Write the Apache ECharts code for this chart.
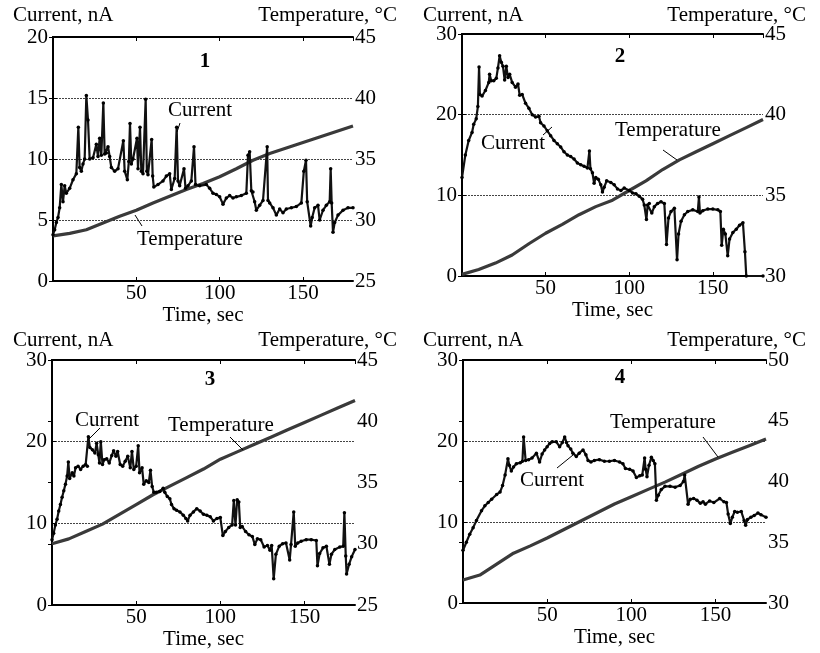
<!DOCTYPE html>
<html>
<head>
<meta charset="utf-8">
<script src="https://cdn.jsdelivr.net/npm/echarts@6/dist/echarts.min.js"></script>
<style>html,body{margin:0;padding:0;background:#fff}#c{width:820px;height:653px}</style>
</head>
<body>
<div id="c"></div>
<script>
// ---- data ----
var tempTime = [0,10,20,30,40,50,60,70,80,90,100,110,120,130,140,150,160,170,180];
var xTicks = [50,100,150];

// Panel 1
var p1Temp = [28.7,28.9,29.2,29.75,30.3,30.8,31.4,31.95,32.5,33.0,33.55,34.2,34.9,35.45,35.9,36.35,36.8,37.25,37.7];
var p1Current = [[0,3.8],[1,4.2],[2,4.8],[3,5.2],[4,6.0],[5,7.9],[6,6.5],[7,7.8],[8,7.2],[10,7.6],[12,8.3],[14,8.8],[15.2,12.6],[16,9.3],[17,9.0],[18,9.6],[19,10.0],[20,15.2],[21,13.2],[22,10.0],[24,10.1],[26,11.2],[27,10.2],[28,11.7],[29,10.3],[30.2,14.6],[31,10.4],[32,10.5],[33,11.0],[34,10.2],[35,9.3],[37,9.0],[39,9.2],[42.2,11.5],[43,9.0],[44.6,8.3],[45.5,9.8],[46.2,12.9],[47,9.6],[48,10.0],[50.4,11.7],[51,9.2],[52.2,12.6],[53,9.0],[54,8.8],[55.6,14.9],[56.3,9.0],[57,8.7],[59.2,11.6],[59.8,8.6],[60.5,7.7],[63,7.9],[66,8.2],[68,8.6],[70,8.8],[71,7.5],[73,8.4],[74.2,12.6],[75,8.2],[76,7.8],[78.6,9.2],[79.5,7.6],[81,7.8],[83,8.2],[84.6,11.0],[85.5,7.9],[88,7.8],[92,7.9],[94,7.6],[96,7.2],[98,7.1],[100,6.9],[102,6.3],[104,6.8],[106,7.0],[108,6.8],[110,6.9],[113,7.0],[116,7.2],[117,10.3],[118,10.6],[119,7.4],[120,7.3],[121,6.5],[122,5.8],[124,6.2],[126,6.6],[128.5,11.0],[129,6.6],[130,6.4],[132,6.0],[134,5.4],[136,5.9],[138,5.6],[140,5.9],[143,6.0],[146,6.1],[149,6.4],[150.5,9.0],[151.8,9.9],[152.5,6.5],[154.6,4.5],[155.5,5.2],[157,6.0],[159,6.2],[160,5.0],[162,5.8],[164,6.2],[166,6.5],[166.6,9.2],[167.2,6.4],[168,4.0],[169,4.8],[171,5.4],[174,5.8],[177,6.0],[180,6.0]];

// Panel 2
var p2Temp = [30.1,30.4,30.8,31.3,32.0,32.65,33.2,33.8,34.3,34.7,35.3,35.9,36.6,37.2,37.7,38.2,38.7,39.2,39.7];
var p2Current = [[0,12.2],[2,15.0],[4,16.8],[6,17.8],[7,18.8],[8.5,19.5],[9.5,21.0],[10.2,25.9],[10.7,22.5],[12,22.3],[14,23.0],[16,24.0],[16.5,25.0],[17.5,24.2],[19,24.2],[20.5,24.5],[21.5,25.8],[22.5,27.3],[23.5,26.5],[24.5,26.0],[25.5,24.3],[26.5,26.0],[27.5,24.6],[28.5,25.0],[30,24.0],[32,23.4],[33.5,23.8],[34.5,22.4],[36,22.5],[38,21.4],[40,20.8],[42,20.0],[44,19.7],[46,19.8],[47,19.0],[49,18.6],[51,18.0],[53,17.4],[55,16.8],[57,16.4],[59,16.0],[61,15.4],[63,15.0],[65,14.8],[67,14.5],[69,14.0],[71,13.8],[73,13.6],[75,13.4],[76.2,15.5],[76.8,13.3],[78,12.8],[79,11.5],[80,12.2],[81.5,12.0],[83,11.3],[84,10.4],[85,11.0],[86.5,11.8],[89,11.6],[91,11.3],[93,10.8],[95,10.6],[97,10.9],[100,10.6],[102,10.3],[104,10.2],[106,9.9],[108,9.5],[109,8.8],[110.3,7.0],[111,8.8],[112,9.0],[113.5,7.8],[115,8.6],[117,9.0],[119,9.2],[121,9.0],[122.3,3.9],[123.5,7.2],[125,8.0],[127,8.4],[128.6,2.0],[129.5,5.2],[131,6.8],[133,7.6],[135,8.0],[138,8.2],[141,8.0],[141.7,9.8],[142.3,7.8],[144,8.1],[147,8.3],[150,8.3],[153,8.2],[154.5,8.0],[155.3,3.8],[156.3,5.8],[157.5,5.2],[158.9,2.5],[160,4.6],[162,5.4],[164,5.8],[166,6.3],[168,6.6],[169.2,3.0],[170,0],[180,0]];

// Panel 3
var p3Temp = [30.0,30.4,31.0,31.6,32.4,33.2,34.0,34.7,35.4,36.1,36.9,37.5,38.1,38.7,39.3,39.9,40.5,41.1,41.7];
var p3Current = [[0,8.0],[1,8.8],[2,9.8],[3,10.5],[4,11.5],[5,12.3],[6,13.2],[7,14.0],[8,14.8],[9,15.8],[9.7,17.5],[10.5,15.5],[12,16.2],[13,15.8],[14,16.8],[15.5,17.0],[17,16.6],[18.5,17.0],[20,17.2],[21,17.0],[21.6,20.6],[22.5,19.3],[24,19.0],[25.5,18.6],[26.5,19.8],[27.5,18.4],[28.2,17.4],[29,20.0],[30,17.2],[31,17.8],[32.5,17.9],[34,17.4],[35.5,18.3],[36.6,18.9],[38,18.2],[39,18.8],[40.5,17.2],[42,17.0],[43.5,17.6],[45,18.2],[46.5,16.8],[47.5,18.8],[48.6,16.6],[50,17.0],[51.2,19.5],[52,16.2],[53.5,16.8],[54.5,14.8],[56,15.2],[57.5,15.0],[58.5,16.5],[59.5,14.5],[60.5,13.8],[62,13.8],[64,13.9],[66,14.3],[67,13.8],[68.5,13.3],[70,13.0],[71,12.3],[72.5,11.8],[74,11.6],[76,11.4],[78,11.0],[79.5,10.6],[80.6,10.3],[82,11.0],[84,11.4],[86,11.8],[88,11.5],[90,11.1],[92,11.0],[94,10.8],[95.9,10.3],[98,10.6],[100,10.7],[101.5,8.5],[103,9.0],[105,9.5],[107,9.8],[108,12.8],[109,9.8],[110,12.9],[111,12.6],[111.8,9.5],[113,9.6],[115,9.0],[117,8.6],[119,8.4],[120.5,7.4],[122,8.1],[124,8.0],[126,7.1],[128,7.3],[129.5,6.7],[130.5,7.3],[131.7,3.2],[133,6.2],[135,7.2],[137,7.5],[139,7.6],[141.2,5.5],[142,7.4],[143.6,11.4],[144.5,7.2],[146,7.6],[148,7.8],[151,8.0],[154,8.0],[157,7.9],[157.7,4.8],[159,6.3],[161,7.0],[163,7.2],[164.8,5.0],[166,6.2],[168,6.8],[171,7.1],[173,7.2],[173.7,11.3],[174.5,6.0],[175,3.8],[176.5,5.0],[178,5.9],[180,6.8]];

// Panel 4
var p4Temp = [31.9,32.3,33.2,34.1,34.7,35.35,36.05,36.75,37.45,38.15,38.75,39.35,39.95,40.6,41.25,41.85,42.4,42.95,43.5];
var p4Current = [[0,6.5],[2,7.5],[4,8.5],[6,9.3],[8,10.2],[11,11.4],[13,12.0],[15,12.4],[17,12.8],[20,13.4],[22,13.7],[23.5,14.5],[25,15.8],[26.7,17.8],[27.5,17.0],[28.7,16.3],[30,16.8],[31.7,17.2],[34,17.3],[35.3,17.5],[36,20.5],[37.2,17.6],[39,17.7],[41,17.9],[43.6,18.5],[45.5,17.4],[47,18.4],[48.5,18.9],[50,19.3],[51.5,19.7],[53,19.9],[55.4,19.9],[57.4,19.3],[59,19.8],[60.4,20.5],[61.5,19.8],[62.4,19.4],[64,19.0],[65.3,18.5],[67.3,18.1],[69,18.5],[71.3,18.9],[73,18.3],[74.3,17.6],[76,17.4],[78,17.6],[81,17.7],[84,17.5],[87,17.5],[90,17.6],[93,17.4],[95,17.2],[96.5,16.6],[99,16.5],[101,16.3],[103,15.5],[105,15.7],[106.5,15.8],[107.9,17.9],[108.5,16.5],[109.3,15.6],[110.5,17.0],[111.9,18.0],[113,17.6],[114,17.2],[114.9,12.7],[116,13.3],[117.8,14.0],[120,14.4],[123,14.4],[126,14.3],[129,14.5],[131,15.0],[131.7,15.8],[133.7,12.2],[135,12.8],[137,12.9],[139,12.7],[141,12.3],[142.6,12.5],[144,12.2],[146.5,12.6],[149,12.4],[152.5,12.9],[155,12.5],[156.5,12.4],[157.5,11.0],[158.8,9.8],[160,10.6],[161.4,11.3],[163,11.2],[165.3,11.3],[167,10.2],[167.9,9.6],[169,10.3],[171,10.6],[173,10.8],[175.2,11.1],[177,10.9],[180,10.6]];

// axis ranges per panel
var leftRanges  = [[0,20,5],[0,30,10],[0,30,10],[0,30,10]];
var rightRanges = [[25,45,5],[30,45,5],[25,45,5],[30,50,5]];
var panelLabels = ['1','2','3','4'];
var currents = [p1Current,p2Current,p3Current,p4Current];
var temps = [p1Temp,p2Temp,p3Temp,p4Temp];

// ---- layout ----
var grids = [
  {left:53, top:37, width:300, height:244},
  {left:462, top:34, width:301, height:242},
  {left:52, top:360, width:303, height:245},
  {left:463, top:360, width:303, height:243}
];
var FF = 'Liberation Serif';
var FS = 21;

var option = {
  animation:false,
  backgroundColor:'#fff',
  textStyle:{fontFamily:FF, color:'#000'},
  grid:[], xAxis:[], yAxis:[], series:[], graphic:[]
};

grids.forEach(function(g,i){
  option.grid.push({left:g.left, top:g.top, width:g.width, height:g.height, outerBoundsMode:'none', containLabel:false});
  var lineS = {show:true, lineStyle:{color:'#000', width:2}};
  option.xAxis.push({
    type:'value', gridIndex:i, position:'bottom', min:0, max:180, interval:50,
    name:'Time, sec', nameLocation:'middle', nameGap:20,
    nameTextStyle:{fontFamily:FF, fontSize:FS, color:'#000'},
    axisLine:lineS, axisTick:{show:true, inside:true, length:4, lineStyle:{color:'#000'}},
    axisLabel:{showMinLabel:false, showMaxLabel:false, fontFamily:FF, fontSize:FS, color:'#000', margin:2},
    splitLine:{show:false}
  });
  option.xAxis.push({
    type:'value', gridIndex:i, position:'top', min:0, max:180, interval:50,
    axisLine:lineS, axisTick:{show:true, inside:true, length:4, lineStyle:{color:'#000'}},
    axisLabel:{show:false}, splitLine:{show:false}
  });
  var L = leftRanges[i], R = rightRanges[i];
  option.yAxis.push({
    type:'value', gridIndex:i, position:'left', min:L[0], max:L[1], interval:L[2],
    axisLine:lineS, axisTick:{show:true, inside:true, length:4, lineStyle:{color:'#000'}},
    axisLabel:{fontFamily:FF, fontSize:FS, color:'#000', margin:5},
    splitLine:{show:true, lineStyle:{color:'#444', width:1, type:[2,1]}}
  });
  option.yAxis.push({
    type:'value', gridIndex:i, position:'right', min:R[0], max:R[1], interval:R[2],
    axisLine:lineS, axisTick:{show:true, inside:true, length:4, lineStyle:{color:'#000'}},
    axisLabel:{fontFamily:FF, fontSize:FS, color:'#000', margin:2},
    splitLine:{show:false}
  });
  option.series.push({
    type:'line', name:'Temperature', xAxisIndex:2*i, yAxisIndex:2*i+1,
    data: tempTime.map(function(t,k){return [t, temps[i][k]];}),
    showSymbol:false, symbol:'none',
    lineStyle:{color:'#3a3a3a', width:3.2, join:'round'}, z:2
  });
  option.series.push({
    type:'line', name:'Current', xAxisIndex:2*i, yAxisIndex:2*i,
    data: currents[i],
    symbol:'circle', symbolSize:3.5, showSymbol:true,
    itemStyle:{color:'#000'},
    lineStyle:{color:'#111', width:2.2}, z:3
  });
});

// ---- annotation text (pixel placement of labels only) ----
function txt(s,x,y,opts){
  opts = opts||{};
  return {type:'text', z:100, style:{text:s, x:x, y:y, fill:'#000',
    font:(opts.bold?'bold ':'')+FS+'px "'+FF+'"', align:opts.align||'left', verticalAlign:'middle'}};
}
function ln(x1,y1,x2,y2){
  return {type:'line', z:100, shape:{x1:x1,y1:y1,x2:x2,y2:y2}, style:{stroke:'#000', lineWidth:1}};
}
var G = option.graphic;
// axis titles
[[13,15,397],[423,15,806],[13,340,397],[423,340,806]].forEach(function(p){
  G.push(txt('Current, nA', p[0], p[1]));
  G.push(txt('Temperature, °C', p[2], p[1], {align:'right'}));
});
// panel numbers
G.push(txt(panelLabels[0],205,62,{bold:true,align:'center'}));
G.push(txt(panelLabels[1],620,57,{bold:true,align:'center'}));
G.push(txt(panelLabels[2],210,380,{bold:true,align:'center'}));
G.push(txt(panelLabels[3],620,378,{bold:true,align:'center'}));
// panel 1
G.push(txt('Current',168,110)); G.push(ln(180,123,177,132));
G.push(txt('Temperature',137,239)); G.push(ln(135,215,142,226));
// panel 2
G.push(txt('Current',481,143)); G.push(ln(543,135,552,127));
G.push(txt('Temperature',615,130)); G.push(ln(663,150,677,160));
// panel 3
G.push(txt('Current',75,420)); G.push(ln(100,428,88,440));
G.push(txt('Temperature',168,425)); G.push(ln(230,437,243,450));
// panel 4
G.push(txt('Temperature',610,422)); G.push(ln(703,437,718,457));
G.push(txt('Current',520,480)); G.push(ln(557,468,573,455));

var chart = echarts.init(document.getElementById('c'), null, {renderer:'canvas'});
chart.setOption(option);
</script>
</body>
</html>
